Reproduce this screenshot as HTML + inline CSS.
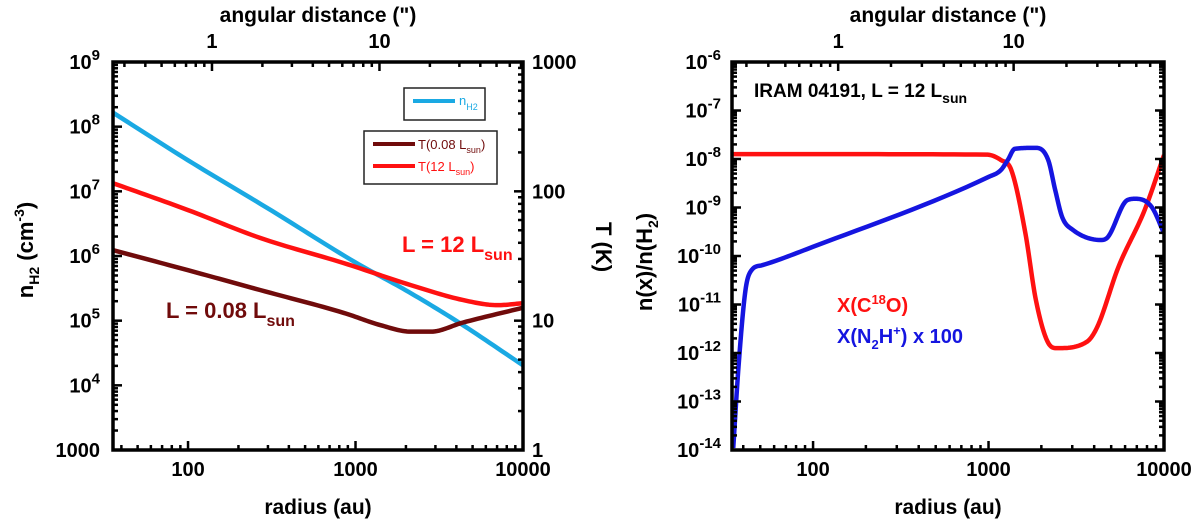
<!DOCTYPE html>
<html><head><meta charset="utf-8">
<style>
body{margin:0;background:#fff;}
svg{display:block;font-family:"Liberation Sans",Arial,sans-serif;font-weight:bold;}
</style></head>
<body>
<svg id="chart" width="1200" height="523" viewBox="0 0 1200 523"></svg>
<script>
// ---- Left panel data (log10 radius in au) ----
const nH2LogR = [1.55, 2.0, 2.5, 3.0, 3.3, 3.6, 4.0];
const nH2LogN = [8.22, 7.48, 6.7, 5.9, 5.47, 5.0, 4.31];
const t12LogR = [1.55, 2.0, 2.43, 2.93, 3.33, 3.64, 3.85, 4.0];
const t12LogT = [2.064, 1.855, 1.64, 1.445, 1.275, 1.16, 1.12, 1.135];
const t008LogR = [1.55, 2.0, 2.43, 2.93, 3.15, 3.33, 3.45, 3.64, 4.0];
const t008LogT = [1.546, 1.39, 1.237, 1.06, 0.965, 0.915, 0.915, 0.985, 1.10];
// ---- Right panel data ----
const c18oLogR = [1.54, 2.0, 2.99, 3.07, 3.13, 3.21, 3.27, 3.34, 3.39, 3.56, 3.62, 3.74, 3.89, 4.0];
const c18oLogX = [-7.90, -7.90, -7.91, -8.02, -8.23, -9.53, -10.91, -11.79, -11.9, -11.77, -11.46, -10.23, -9.05, -7.92];
const n2hLogR = [1.545, 1.575, 1.615, 1.65, 1.71, 2.0, 3.0, 3.07, 3.11, 3.15, 3.27, 3.34, 3.38, 3.42, 3.48, 3.64, 3.68, 3.79, 3.84, 3.93, 4.0];
const n2hLogX = [-13.96, -12.29, -10.70, -10.29, -10.19, -9.81, -8.37, -8.23, -8.02, -7.79, -7.77, -8.02, -8.64, -9.2, -9.46, -9.67, -9.61, -8.85, -8.82, -8.99, -9.53];
const leftYTicks = [3,4,5,6,7,8,9];
const rightTTicks = ["1","10","100","1000"];
const xTickLabels = ["100","1000","10000"];
const rightYTicks = [-14,-13,-12,-11,-10,-9,-8,-7,-6];
const angTicks = ["1","10"];
const arcsecAU = 139;

const NS="http://www.w3.org/2000/svg";
const svg=document.getElementById('chart');
function mk(tag,attrs,parent){const e=document.createElementNS(NS,tag);for(const k in attrs)e.setAttribute(k,attrs[k]);(parent||svg).appendChild(e);return e;}
function txt(x,y,s,size,anchor,fill,parent){const t=mk('text',{x:x,y:y,'font-size':size,'text-anchor':anchor||'start',fill:fill||'#000'},parent);t.innerHTML=s;return t;}

const L={x0:113,x1:523,y0:62,y1:450,lrMin:1.552,lrMax:4};
const R={x0:732,x1:1164,y0:62,y1:450,lrMin:1.538,lrMax:4};
function sx(P,lr){return P.x0+(lr-P.lrMin)/(P.lrMax-P.lrMin)*(P.x1-P.x0);}
const yN=v=>L.y1-(v-3)/6*(L.y1-L.y0);
const yT=v=>L.y1-(v-0)/3*(L.y1-L.y0);
const yX=v=>R.y1-(v+14)/8*(R.y1-R.y0);

function ticksX(P,g){
  for(let d=1;d<=4;d++)for(let m=1;m<10;m++){const lr=d+Math.log10(m);if(lr<P.lrMin-1e-6||lr>P.lrMax+1e-6)continue;const x=sx(P,lr);const len=m===1?9:5;
    mk('line',{x1:x,x2:x,y1:P.y1,y2:P.y1-len,stroke:'#000','stroke-width':2.5},g);}
  for(let d=-1;d<=2;d++)for(let m=1;m<10;m++){const lr=Math.log10(arcsecAU)+d+Math.log10(m);if(lr<P.lrMin||lr>P.lrMax)continue;const x=sx(P,lr);const len=m===1?9:5;
    mk('line',{x1:x,x2:x,y1:P.y0,y2:P.y0+len,stroke:'#000','stroke-width':2.5},g);}
  xTickLabels.forEach((s,i)=>txt(sx(P,2+i),476,s,20,'middle','#000',g));
  angTicks.forEach((s,i)=>txt(sx(P,Math.log10(arcsecAU)+i),48,s,20,'middle','#000',g));
  txt((P.x0+P.x1)/2,22,'angular distance (")',21,'middle','#000',g);
  txt((P.x0+P.x1)/2,514,'radius (au)',21,'middle','#000',g);
}
function ticksY(x,dir,y0,y1,n,g){
  const h=(y1-y0)/n;
  for(let d=0;d<n;d++)for(let m=1;m<10;m++){const y=y1-(d+Math.log10(m))*h;const len=m===1?9:5;
    mk('line',{x1:x,x2:x+dir*len,y1:y,y2:y,stroke:'#000','stroke-width':2.5},g);}
}
function monotone(xs,ys){
  const n=xs.length,dl=[],m=new Array(n);
  for(let i=0;i<n-1;i++)dl.push((ys[i+1]-ys[i])/(xs[i+1]-xs[i]));
  m[0]=dl[0];m[n-1]=dl[n-2];
  for(let i=1;i<n-1;i++){m[i]=dl[i-1]*dl[i]<=0?0:(dl[i-1]+dl[i])/2;}
  for(let i=0;i<n-1;i++){if(dl[i]===0){m[i]=0;m[i+1]=0;continue;}const a=m[i]/dl[i],b=m[i+1]/dl[i],s=a*a+b*b;if(s>9){const t=3/Math.sqrt(s);m[i]=t*a*dl[i];m[i+1]=t*b*dl[i];}}
  const out=[];
  for(let i=0;i<n-1;i++){const h=xs[i+1]-xs[i];for(let k=0;k<16;k++){const t=k/16,t2=t*t,t3=t2*t;
    const y=(2*t3-3*t2+1)*ys[i]+(t3-2*t2+t)*h*m[i]+(-2*t3+3*t2)*ys[i+1]+(t3-t2)*h*m[i+1];out.push([xs[i]+t*h,y]);}}
  out.push([xs[n-1],ys[n-1]]);return out;
}
function curve(P,lrs,vals,yf,color,name,g){
  const pts=monotone(lrs,vals).map(p=>[sx(P,p[0]).toFixed(2),yf(p[1]).toFixed(2)]);
  const p=mk('polyline',{points:pts.map(q=>q.join(',')).join(' '),fill:'none',stroke:color,'stroke-width':4.5,'stroke-linejoin':'round'},g);
  
  
}

// ===== Left panel =====
const gl=mk('g',{});


const cpl=mk('clipPath',{id:'cl'},gl);mk('rect',{x:L.x0,y:L.y0,width:L.x1-L.x0,height:L.y1-L.y0},cpl);
const glc=mk('g',{'clip-path':'url(#cl)'},gl);
curve(L,nH2LogR,nH2LogN,yN,'#1aa9e3','nh2-line',glc);
curve(L,t12LogR,t12LogT,yT,'#ff1111','t12-line',glc);
curve(L,t008LogR,t008LogT,yT,'#700b0b','t008-line',glc);
ticksY(L.x0,1,L.y0,L.y1,6,gl);
ticksY(L.x1,-1,L.y0,L.y1,3,gl);
ticksX(L,gl);
mk('rect',{x:L.x0,y:L.y0,width:L.x1-L.x0,height:L.y1-L.y0,fill:'none',stroke:'#000','stroke-width':3.5},gl);
leftYTicks.forEach(v=>{const y=yN(v)+7;
  if(v===3) txt(100,y,'1000',20,'end','#000',gl);
  else txt(100,y,'10<tspan font-size="15" dy="-9">'+v+'</tspan>',20,'end','#000',gl);});
rightTTicks.forEach((s,i)=>txt(532,yT(i)+7,s,20,'start','#000',gl));
txt(0,0,'n<tspan font-size="14" dy="6">H2</tspan><tspan dy="-6"> (cm</tspan><tspan font-size="14" dy="-9">-3</tspan><tspan dy="9">)</tspan>',22,'middle','#000',gl).setAttribute('transform','translate(33,250) rotate(-90)');
txt(0,0,'T (K)',22,'middle','#000',gl).setAttribute('transform','translate(596,247) rotate(90)');
const lg1=mk('g',{},gl);


mk('rect',{x:404,y:88,width:81,height:32,fill:'#fff',stroke:'#222','stroke-width':1.5},lg1);
mk('line',{x1:413,x2:455,y1:101,y2:101,stroke:'#1aa9e3','stroke-width':4},lg1);
txt(459,105,'n<tspan font-size="9" dy="5">H2</tspan>',13,'start','#1aa9e3',lg1).setAttribute('font-weight','normal');
const lg2=mk('g',{},gl);


mk('rect',{x:364,y:131,width:133,height:53,fill:'#fff',stroke:'#222','stroke-width':1.5},lg2);
mk('line',{x1:373,x2:415,y1:144,y2:144,stroke:'#700b0b','stroke-width':4},lg2);
mk('line',{x1:373,x2:415,y1:166,y2:166,stroke:'#ff1111','stroke-width':4},lg2);
txt(418,149,'T(0.08 L<tspan font-size="9" dy="4">sun</tspan><tspan dy="-4">)</tspan>',13,'start','#700b0b',lg2).setAttribute('font-weight','normal');
txt(418,171,'T(12 L<tspan font-size="9" dy="4">sun</tspan><tspan dy="-4">)</tspan>',13,'start','#ff1111',lg2).setAttribute('font-weight','normal');
const a1=txt(402,252,'L = 12 L<tspan font-size="16" dy="8">sun</tspan>',22,'start','#ff1111',gl);


const a2=txt(166,318,'L = 0.08 L<tspan font-size="16" dy="8">sun</tspan>',22,'start','#700b0b',gl);



// ===== Right panel =====
const gr=mk('g',{});


const cp=mk('clipPath',{id:'cr'},gr);mk('rect',{x:R.x0,y:R.y0,width:R.x1-R.x0,height:R.y1-R.y0},cp);
const grc=mk('g',{'clip-path':'url(#cr)'},gr);
curve(R,c18oLogR,c18oLogX,yX,'#ff1111','c18o-line',grc);
curve(R,n2hLogR,n2hLogX,yX,'#1515e0','n2hp-line',grc);
ticksY(R.x0,1,R.y0,R.y1,8,gr);
ticksY(R.x1,-1,R.y0,R.y1,8,gr);
ticksX(R,gr);
mk('rect',{x:R.x0,y:R.y0,width:R.x1-R.x0,height:R.y1-R.y0,fill:'none',stroke:'#000','stroke-width':3.5},gr);
rightYTicks.forEach(v=>txt(721,yX(v)+7,'10<tspan font-size="15" dy="-9">'+v+'</tspan>',20,'end','#000',gr));
txt(0,0,'n(x)/n(H<tspan font-size="14" dy="6">2</tspan><tspan dy="-6">)</tspan>',22,'middle','#000',gr).setAttribute('transform','translate(652,262) rotate(-90)');
const t1=txt(754,97,'IRAM 04191, L = 12 L<tspan font-size="14" dy="6">sun</tspan>',19,'start','#000',gr);


const t2=txt(837,312,'X(C<tspan font-size="13" dy="-8">18</tspan><tspan dy="8">O)</tspan>',20,'start','#ff1111',gr);


const t3=txt(837,343,'X(N<tspan font-size="13" dy="6">2</tspan><tspan dy="-6">H</tspan><tspan font-size="13" dy="-8">+</tspan><tspan dy="8">) x 100</tspan>',20,'start','#1515e0',gr);


</script>
</body></html>
